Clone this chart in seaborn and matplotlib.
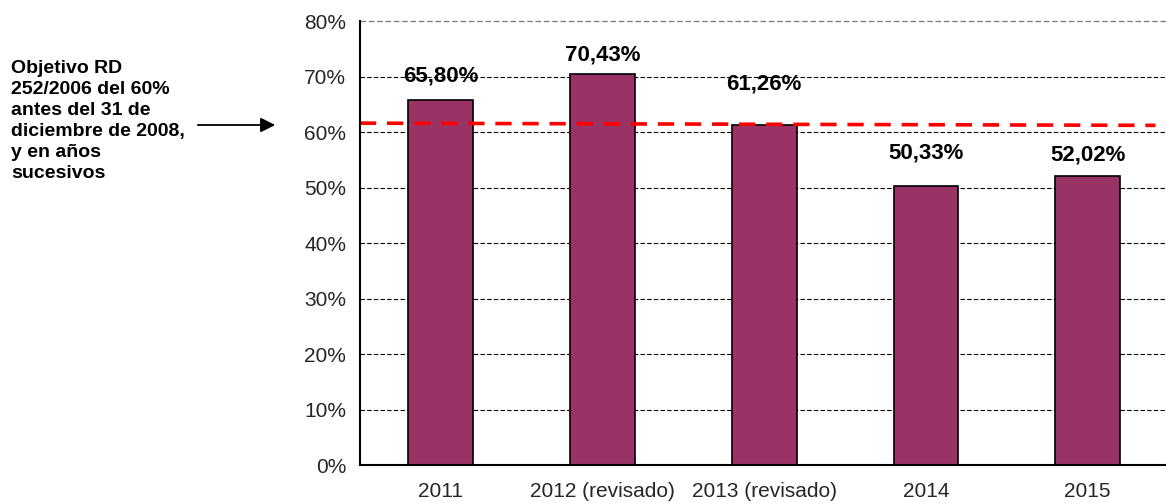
import matplotlib
matplotlib.use("Agg")
import matplotlib.pyplot as plt
import seaborn as sns
import pandas as pd

categories = ["2011", "2012 (revisado)", "2013 (revisado)", "2014", "2015"]
values = [65.80, 70.43, 61.26, 50.33, 52.02]
value_labels = ["65,80%", "70,43%", "61,26%", "50,33%", "52,02%"]
target_line = [61.6, 61.2]
yticks = [0, 10, 20, 30, 40, 50, 60, 70, 80]
ytick_labels = ["0%", "10%", "20%", "30%", "40%", "50%", "60%", "70%", "80%"]
annotation = "Objetivo RD\n252/2006 del 60%\nantes del 31 de\ndiciembre de 2008,\ny en años\nsucesivos"

sns.set_theme(style="white")
plt.rcParams['font.family'] = ['Liberation Sans', 'DejaVu Sans']

df = pd.DataFrame({"cat": categories, "val": values})

fig = plt.figure(figsize=(11.66, 5.03), dpi=100)
ax = fig.add_axes([0.3087, 0.0755, 0.6934, 0.8827])

sns.barplot(data=df, x="cat", y="val", color="#993366", saturation=1,
            width=0.4, edgecolor="black", linewidth=1.2, ax=ax, zorder=3)

ax.set_xlim(-0.5, 4.5)
ax.set_ylim(0, 80)
ax.set_yticks(yticks)
ax.set_yticklabels(ytick_labels, fontsize=15)

# gridlines
for y in yticks[1:-1]:
    ax.axhline(y, color="black", linestyle=(0, (4, 2)), linewidth=0.8, zorder=1)
ax.axhline(80, color="#808080", linestyle=(0, (4, 2)), linewidth=1.0, zorder=1, clip_on=False)

# target line
ax.plot([-0.5, 4.42], target_line, color="#FF0000", linestyle=(0, (4.5, 3)),
        linewidth=2.6, zorder=4)

# value labels
label_y = [70.1, 73.9, 68.6, 56.2, 55.9]
for i, (lab, ly) in enumerate(zip(value_labels, label_y)):
    ax.text(i, ly, lab, ha="center", va="center", fontsize=16, fontweight="bold",
            color="black", zorder=5)

# x ticks: labels at centers, tick marks at boundaries
ax.set_xticks(range(len(categories)))
ax.set_xticklabels(categories, fontsize=15)
ax.tick_params(axis="x", length=0, pad=12)
ax.set_xticks([-0.5, 0.5, 1.5, 2.5, 3.5], minor=True)
ax.tick_params(axis="x", which="minor", length=6, width=1.2, color="black", direction="out")
ax.tick_params(axis="y", length=6, width=1.2, color="black", direction="out", pad=4)
ax.set_xlabel("")
ax.set_ylabel("")

for s in ["top", "right"]:
    ax.spines[s].set_visible(False)
for s in ["left", "bottom"]:
    ax.spines[s].set_color("black")
    ax.spines[s].set_linewidth(1.5)
    ax.spines[s].set_zorder(6)

# annotation text and arrow
fig.text(11 / 1166, 1 - 60 / 503, annotation, ha="left", va="top", fontsize=14,
         fontweight="bold", linespacing=1.3, color="black")
ax.annotate("", xy=(278 / 1166, 1 - 125 / 503), xycoords="figure fraction",
            xytext=(195 / 1166, 1 - 125 / 503), textcoords="figure fraction",
            arrowprops=dict(arrowstyle="-|>", color="black", lw=1.3, mutation_scale=22))

fig.savefig("out.png", dpi=100)
